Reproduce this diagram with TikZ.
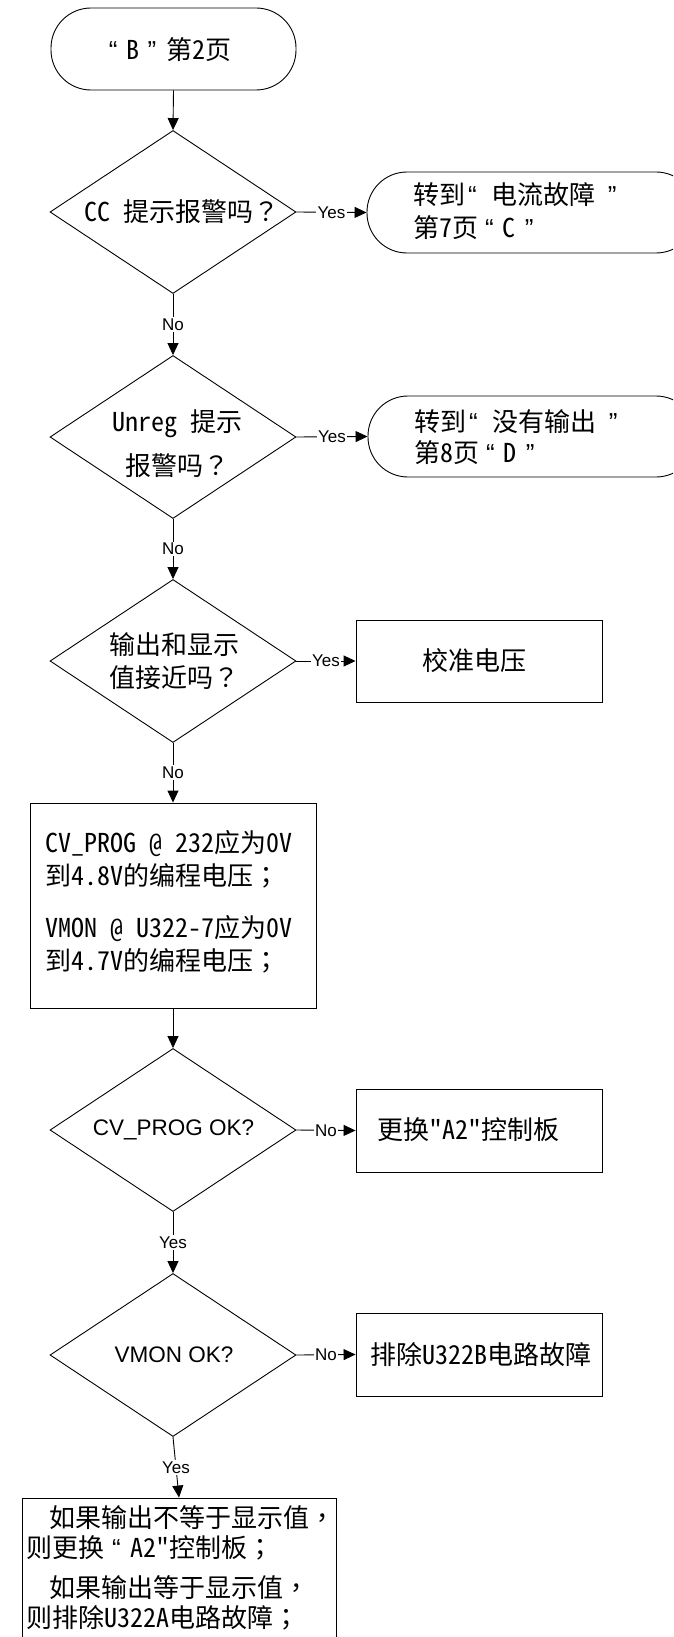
\documentclass[tikz,border=0pt]{standalone}
\usepackage{fontspec}
\setmainfont{Liberation Sans}
\newfontfamily\cjk{Noto Sans CJK SC}
\newfontfamily\hwfont[RawFeature=+hwid]{Noto Sans CJK SC}
\newfontfamily\tcfont{Noto Sans CJK TC}
\newfontfamily\qfont{Liberation Sans}
\newcommand{\hwl}[1]{{\hwfont #1}}
\newcommand{\pz}[1]{{\tcfont #1}}
\newcommand{\qo}{{\qfont “}}
\newcommand{\qc}{{\qfont ”}}
\usetikzlibrary{shapes.geometric,arrows.meta}
\tikzset{
  ln/.style={line width=0.9pt, draw=black},
  arr/.style={ln, -{Triangle[length=12pt,width=11pt]}},
  dia/.style={shape=diamond, draw=black, line width=0.9pt, minimum width=246pt, minimum height=163pt, inner sep=0pt},
  term/.style={rectangle, rounded corners=40pt, draw=black, line width=0.9pt, inner sep=0pt},
  boxx/.style={rectangle, draw=black, line width=0.9pt, inner sep=0pt},
  cjkt/.style={font=\cjk\fontsize{26}{33}\selectfont, inner sep=0pt},
  lab/.style={font=\fontsize{17}{17}\selectfont, fill=white, inner sep=1.5pt},
  latin/.style={font=\fontsize{22.5}{27}\selectfont, inner sep=0pt},
}
\begin{document}
\begin{tikzpicture}[x=1pt,y=-1pt]
\clip (0,0) rectangle (673,1637);
\fill[white] (0,0) rectangle (673,1637);

% start
\node[term, minimum width=245pt, minimum height=82pt] (start) at (173.5,49) {};
\node[cjkt] (startt) at (170,50) {\qo\hspace{9pt}\hwl{B}\hspace{8pt}\qc\hspace{10pt}第\hwl{2}页};

% decision 1
\node[dia] (d1) at (173,212) {};
\node[cjkt] (d1t) at (182,212) {\hwl{CC }提示报警吗\pz{？}};
\node[term, minimum width=329pt, minimum height=81pt] (t2) at (531.5,212.5) {};
\node[cjkt, anchor=west, align=left] (t2t) at (413,211.5) {转到\hspace{3pt}\qo\hspace{15pt}电流故障\hspace{12pt}\qc\\第\hwl{7}页\hspace{7pt}\qo\hspace{9pt}\hwl{C}\hspace{9pt}\qc};

% decision 2
\node[dia] (d2) at (173,437) {};
\node[cjkt, align=center, font=\cjk\fontsize{26}{44}\selectfont] (d2t) at (177,444) {\hwl{Unreg }提示\\报警吗\pz{？}};
\node[term, minimum width=328pt, minimum height=81pt] (t3) at (532,436.5) {};
\node[cjkt, anchor=west, align=left, font=\cjk\fontsize{26}{31}\selectfont] (t3t) at (414,437.5) {转到\hspace{3pt}\qo\hspace{15pt}没有输出\hspace{12pt}\qc\\第\hwl{8}页\hspace{7pt}\qo\hspace{9pt}\hwl{D}\hspace{9pt}\qc};

% decision 3
\node[dia] (d3) at (173,661) {};
\node[cjkt, align=center] (d3t) at (174,661.5) {输出和显示\\值接近吗\pz{？}};
\node[boxx, minimum width=246pt, minimum height=82pt] (b1) at (479,661) {};
\node[cjkt] (b1t) at (474,661) {校准电压};

% CV box
\node[boxx, minimum width=286pt, minimum height=205pt] (cv) at (173,905.5) {};
\node[cjkt, anchor=west, align=left] (cvt) at (45,902) {\hwl{CV\_PROG @ 232}应为\hwl{0V}\\到\hwl{4.8V}的编程电压\pz{；}\\[19pt]\hwl{VMON @ U322-7}应为\hwl{0V}\\到\hwl{4.7V}的编程电压\pz{；}};

% decision 4
\node[dia] (d4) at (173,1130) {};
\node[latin] (d4t) at (173.5,1130) {CV\_PROG OK?};
\node[boxx, minimum width=246pt, minimum height=83pt] (b2) at (479,1130.5) {};
\node[cjkt] (b2t) at (468,1130) {更换\hwl{"A2"}控制板};

% decision 5
\node[dia] (d5) at (173,1355) {};
\node[latin] (d5t) at (174,1355) {VMON OK?};
\node[boxx, minimum width=246pt, minimum height=83pt] (b3) at (479,1354.5) {};
\node[cjkt] (b3t) at (481,1355) {排除\hwl{U322B}电路故障};

% last box
\node[boxx, minimum width=314pt, minimum height=200pt] (last) at (179,1598) {};
\node[cjkt, anchor=west, align=left, font=\cjk\fontsize{26}{30}\selectfont] (lastt) at (26,1568) {\hspace*{23pt}如果输出不等于显示值\pz{，}\\则更换\hspace{8pt}\qo\hspace{10pt}\hwl{A2"}控制板\pz{；}\\[10pt]\hspace*{23pt}如果输出等于显示值\pz{，}\\则排除\hwl{U322A}电路故障\pz{；}};

% connectors
\draw[arr] (start.south) -- (d1.north);
\draw[arr] (d1.east) -- node[lab] (l1) {Yes} (t2.west);
\draw[arr] (d1.south) -- node[lab] (l2) {No} (d2.north);
\draw[arr] (d2.east) -- node[lab] (l3) {Yes} (t3.west);
\draw[arr] (d2.south) -- node[lab] (l4) {No} (d3.north);
\draw[arr] (d3.east) -- node[lab] (l5) {Yes} (b1.west);
\draw[arr] (d3.south) -- node[lab] (l6) {No} (cv.north);
\draw[arr] (cv.south) -- (d4.north);
\draw[arr] (d4.east) -- node[lab] (l7) {No} (b2.west);
\draw[arr] (d4.south) -- node[lab] (l8) {Yes} (d5.north);
\draw[arr] (d5.east) -- node[lab] (l9) {No} (b3.west);
\draw[arr] (d5.south) -- node[lab] (l10) {Yes} (last.north);
\end{tikzpicture}
\end{document}
